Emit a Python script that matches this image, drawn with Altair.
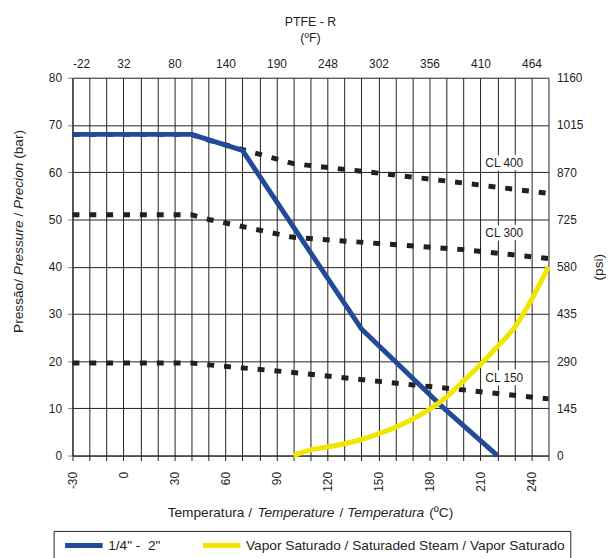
import altair as alt
import pandas as pd

# ---- data ----
temps_cl = [-30, 40, 50, 100, 150, 200, 250]
cl400 = [68.0, 68.0, 66.8, 61.8, 59.8, 57.7, 55.5]
cl300 = [51.0, 51.0, 50.0, 46.2, 44.9, 43.6, 41.7]
cl150 = [19.6, 19.6, 19.2, 17.6, 15.7, 13.9, 12.0]

blue_t = [-30, 40, 70, 140, 190, 220]
blue_p = [68.0, 68.0, 64.6, 26.8, 9.5, 0.0]

steam_t = [100, 110, 120, 130, 140, 150, 160, 170, 180, 190, 200, 210, 220, 230, 240, 250]
steam_p = [0.0, 1.2, 1.8, 2.5, 3.4, 4.6, 6.0, 7.7, 9.8, 12.4, 15.8, 19.3, 23.1, 27.1, 33.0, 40.0]

label_names = ["CL 400", "CL 300", "CL 150"]
label_t = [224, 224, 224]
label_p = [61.9, 47.2, 16.4]

series_names = ['1/4"\u00a0-\u00a0\u00a02"', "Vapor Saturado / Saturaded Steam / Vapor Saturado"]
top_f_labels = ["-22", "32", "80", "140", "190", "248", "302", "356", "410", "464"]
x_ticks = list(range(-30, 251, 10))
top_ticks = list(range(-30, 241, 30))
y_ticks = list(range(0, 81, 10))

# axis titles: (text, italic?)
x_title_parts = [("Temperatura / ", False), ("Temperature", True), (" / ", False),
                 ("Temperatura", True), (" (ºC)", False)]
y_title_parts = [("Pressão/ ", False), ("Pressure", True), (" / ", False),
                 ("Precion", True), (" (bar)", False)]

FONT = "Liberation Sans"
BLUE = "#234A98"
YELLOW = "#F2E600"
INK = "#231F20"
LAB = 12
TIT = 13.8
W, H = 480, 381

# Arial / Liberation Sans advance widths (per 1000 em), same for italic
ADV = {" ": 278, "(": 333, ")": 333, "/": 278, "º": 365, "ã": 556,
       "a": 556, "b": 556, "c": 500, "C": 722, "e": 556, "i": 222, "m": 833,
       "n": 556, "o": 556, "p": 556, "P": 667, "r": 333, "s": 500, "t": 278,
       "T": 611, "u": 556}


def text_width(s, size):
    return sum(ADV.get(ch, 556) for ch in s) * size / 1000.0


cl_rows = []
for name, vals in zip(label_names, [cl400, cl300, cl150]):
    for t, p in zip(temps_cl, vals):
        cl_rows.append({"temp": t, "bar": p, "cls": name})
cl_df = pd.DataFrame(cl_rows)
blue_df = pd.DataFrame({"temp": blue_t, "bar": blue_p, "series": series_names[0]})
steam_df = pd.DataFrame({"temp": steam_t, "bar": steam_p, "series": series_names[1]})
lab_df = pd.DataFrame({"temp": label_t, "bar": label_p, "name": label_names})
one = pd.DataFrame({"k": [0]})

xs = alt.Scale(domain=[-30, 250], nice=False, zero=False)
ys = alt.Scale(domain=[0, 80], nice=False)

x_bottom = alt.X(
    "temp:Q", scale=xs,
    axis=alt.Axis(
        values=x_ticks,
        labelExpr="(datum.value % 30 == 0) && datum.value < 250 ? datum.value + '' : ''",
        labelAngle=270, labelFontSize=LAB, labelPadding=11,
        tickSize=5, tickColor=INK, domainColor=INK,
        grid=True, gridColor=INK, gridWidth=1,
        title=None, labelColor=INK,
    ),
)
y_left = alt.Y(
    "bar:Q", scale=ys,
    axis=alt.Axis(
        values=y_ticks, labelFontSize=LAB, labelPadding=6,
        tickSize=5, tickColor="#888888", domainColor=INK,
        grid=True, gridColor=INK, gridWidth=1,
        title=None, labelColor=INK,
    ),
)

color_enc = alt.Color(
    "series:N",
    scale=alt.Scale(domain=series_names, range=[BLUE, YELLOW]),
    legend=alt.Legend(
        title=None, orient="none", legendX=-19, legendY=457,
        direction="horizontal", symbolType="M-2.7,0H2.7", symbolStrokeWidth=5,
        symbolSize=196, labelFontSize=TIT, labelFont=FONT, labelColor=INK,
        strokeColor=INK, padding=5, columnPadding=32, labelOffset=15,
        symbolOffset=16, fillColor="white", labelLimit=0,
    ),
)

cl_lines = alt.Chart(cl_df).mark_line(
    color=INK, strokeWidth=5, strokeDash=[7, 10]
).encode(x=x_bottom, y=y_left, detail="cls:N")

blue_line = alt.Chart(blue_df).mark_line(strokeWidth=5, strokeJoin="round").encode(
    x=x_bottom, y=y_left, color=color_enc,
)
steam_line = alt.Chart(steam_df).mark_line(strokeWidth=5, interpolate="monotone").encode(
    x=x_bottom, y=y_left, color=color_enc,
)
label_halo = alt.Chart(lab_df).mark_text(
    fontSize=LAB, font=FONT, color="white", stroke="white", strokeWidth=7,
    strokeJoin="round", align="center", baseline="middle"
).encode(x=x_bottom, y=y_left, text="name:N")
labels = alt.Chart(lab_df).mark_text(
    fontSize=LAB, font=FONT, color=INK, align="center", baseline="middle"
).encode(x=x_bottom, y=y_left, text="name:N")

top_expr = "[" + ",".join("'%s'" % s for s in top_f_labels) + "][(datum.value + 30) / 30]"
axis_layer = alt.Chart(cl_df).mark_point(opacity=0).encode(
    x=alt.X("temp:Q", scale=xs, axis=alt.Axis(
        orient="top", values=top_ticks, labelExpr=top_expr, labelAngle=0,
        labelFontSize=LAB, labelColor=INK, ticks=False, domain=False, grid=False,
        labelPadding=7, title=None,
    )),
    y=alt.Y("bar:Q", scale=ys, axis=alt.Axis(
        orient="right", values=y_ticks, labelExpr="datum.value * 14.5 + ''",
        labelFontSize=LAB, labelColor=INK, ticks=False, domain=False, grid=False,
        labelPadding=8, title="(psi)", titleFontSize=TIT, titleFontWeight="normal",
        titleColor=INK, titlePadding=23, titleAngle=270,
    )),
)


def title_segments(parts, start, step_sign, fixed, vertical):
    """Lay out upright/italic pieces one after the other along the title line."""
    marks = []
    pos = start
    for s, ital in parts:
        lead = len(s) - len(s.lstrip(" "))
        body = s.strip(" ")
        pos_body = pos + step_sign * text_width(" " * lead, TIT)
        props = dict(text=body, font=FONT, fontSize=TIT, color=INK, align="left",
                     baseline="middle", fontStyle="italic" if ital else "normal")
        if vertical:
            props["angle"] = 270
            enc = dict(x=alt.value(fixed), y=alt.value(pos_body))
        else:
            enc = dict(x=alt.value(pos_body), y=alt.value(fixed))
        marks.append(alt.Chart(one).mark_text(**props).encode(**enc))
        pos += step_sign * text_width(s, TIT)
    return marks


x_total = sum(text_width(s, TIT) for s, _ in x_title_parts)
y_total = sum(text_width(s, TIT) for s, _ in y_title_parts)
title_marks = (
    title_segments(x_title_parts, W / 2 - x_total / 2, 1, H + 58, False)
    + title_segments(y_title_parts, 155 + y_total / 2, -1, -54, True)
)

inner = alt.layer(cl_lines, blue_line, steam_line, label_halo, labels)
chart = alt.layer(inner, axis_layer, *title_marks).resolve_scale(
    x="independent", y="independent"
).properties(
    width=W, height=H,
    title=alt.Title(["PTFE - R", "(ºF)"], fontSize=12.5, fontWeight="normal",
                    font=FONT, color=INK, anchor="middle", lineHeight=17, offset=13),
    autosize=alt.AutoSizeParams(type="none"),
    padding={"left": 65, "top": 68, "right": 58, "bottom": 101},
).configure(font=FONT).configure_view(stroke=None).configure_axis(
    labelFont=FONT, titleFont=FONT
)

chart.save("out.html", embed_options={"renderer": "svg", "actions": False})
